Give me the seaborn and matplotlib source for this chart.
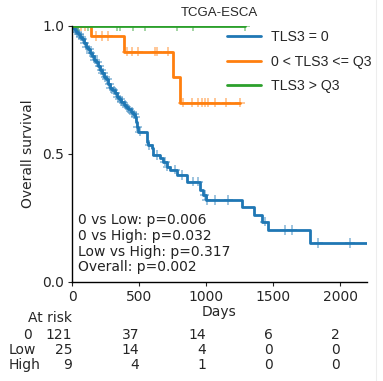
import numpy as np
import pandas as pd
import matplotlib
matplotlib.use("Agg")
import matplotlib.pyplot as plt
import matplotlib.transforms as mtransforms
from matplotlib.lines import Line2D
import seaborn as sns

# Kaplan-Meier step data per TLS3 group: event days, survival after each event,
# censoring days and the last follow-up day.
groups = ["TLS3 = 0", "0 < TLS3 <= Q3", "TLS3 > Q3"]
row_labels = ["0", "Low", "High"]

zero_event_days = [8, 20, 30, 45, 60, 75, 90, 105, 120, 135, 150, 165, 180, 195,
                   210, 225, 240, 255, 270, 285, 300, 318, 335, 350, 365, 385,
                   400, 420, 440, 458, 470, 478, 485, 492, 557, 565, 595, 607,
                   657, 681, 707, 731, 781, 856, 955, 980, 998, 1266, 1361,
                   1416, 1460, 1776]
zero_surv = [0.992, 0.983, 0.975, 0.967, 0.958, 0.950, 0.934, 0.918, 0.909,
             0.893, 0.884, 0.868, 0.859, 0.843, 0.826, 0.817, 0.800, 0.791,
             0.774, 0.757, 0.748, 0.739, 0.722, 0.713, 0.704, 0.692, 0.683,
             0.674, 0.664, 0.655, 0.646, 0.626, 0.606, 0.587, 0.548, 0.535,
             0.522, 0.496, 0.483, 0.470, 0.450, 0.438, 0.418, 0.392, 0.359,
             0.340, 0.320, 0.292, 0.262, 0.236, 0.203, 0.152]
zero_censor_days = [15, 28, 40, 52, 66, 80, 95, 112, 128, 140, 158, 172, 188,
                    205, 218, 232, 248, 262, 278, 292, 310, 325, 342, 358, 372,
                    392, 408, 428, 448, 462, 475, 488, 507, 577, 632, 694, 711,
                    769, 820, 900, 943, 990, 1005, 1067, 1167, 1440, 1590, 1640,
                    1838, 2075]
zero_last_day = 2250

low_event_days = [142, 388, 754, 806]
low_surv = [0.96, 0.90, 0.80, 0.70]
low_censor_days = [30, 67, 97, 180, 224, 269, 410, 450, 493, 619, 634, 716,
                   828, 896, 940, 970, 993, 1015, 1067, 1150, 1254]
low_last_day = 1254

high_event_days = []
high_surv = []
high_censor_days = [45, 120, 336, 358, 455, 545, 784, 900, 1290]
high_last_day = 1290

# Number at risk table
risk_days = [0, 500, 1000, 1500, 2000]
risk_zero = [121, 37, 14, 6, 2]
risk_low = [25, 14, 4, 0, 0]
risk_high = [9, 4, 1, 0, 0]

pvalue_lines = ["0 vs Low: p=0.006", "0 vs High: p=0.032",
                "Low vs High: p=0.317", "Overall: p=0.002"]

palette = ["#1f77b4", "#ff7f0e", "#2ca02c"]

sns.set_style("ticks")
plt.rcParams["font.family"] = ["DejaVu Sans"]
plt.rcParams["font.size"] = 10

series = [
    (zero_event_days, zero_surv, zero_censor_days, zero_last_day),
    (low_event_days, low_surv, low_censor_days, low_last_day),
    (high_event_days, high_surv, high_censor_days, high_last_day),
]

line_rows = []
censor_rows = []
for name, (ev, sv, cd, last) in zip(groups, series):
    xs = [0] + list(ev) + [last]
    ys = [1.0] + list(sv) + [sv[-1] if sv else 1.0]
    for x, y in zip(xs, ys):
        line_rows.append({"day": x, "surv": y, "group": name})
    ev_arr = np.asarray([0] + list(ev), dtype=float)
    sv_arr = np.asarray([1.0] + list(sv), dtype=float)
    for c in cd:
        idx = np.searchsorted(ev_arr, c, side="right") - 1
        censor_rows.append({"day": c, "surv": sv_arr[idx], "group": name})

lines_df = pd.DataFrame(line_rows)
censor_df = pd.DataFrame(censor_rows)

fig = plt.figure(figsize=(3.83, 3.81), dpi=100)
ax = fig.add_axes([0.188, 0.26, 0.770, 0.672])

sns.lineplot(data=lines_df, x="day", y="surv", hue="group", hue_order=groups,
             palette=palette, drawstyle="steps-post", estimator=None,
             linewidth=2, ax=ax)
sns.scatterplot(data=censor_df, x="day", y="surv", hue="group",
                hue_order=groups, palette=palette, marker="+", s=45,
                linewidth=1.1, alpha=0.55, legend=False, ax=ax)

ax.set_xlim(0, 2200)
ax.set_ylim(0, 1.0)
ax.set_xticks(risk_days)
ax.set_yticks([0.0, 0.5, 1.0])
ax.tick_params(length=3, pad=2.5)
ax.set_xlabel("Days", labelpad=1)
ax.set_ylabel("Overall survival", labelpad=5)
ax.set_title("TCGA-ESCA", fontsize=9.5, family=["Liberation Sans"], pad=7)
sns.despine(ax=ax)
for sp in ax.spines.values():
    sp.set_color("black")
    sp.set_linewidth(1.0)

leg = ax.legend(loc="upper left", bbox_to_anchor=(0.483, 1.034),
                frameon=False, handlelength=2.4, handletextpad=0.7,
                labelspacing=0.75,
                prop={"family": ["Liberation Sans"], "size": 10.2})

ax.text(0.02, 0.03, "\n".join(pvalue_lines), transform=ax.transAxes,
        ha="left", va="bottom", fontsize=10, color="#222222", linespacing=1.15)

# Number at risk table under the x axis
H = 381.0
trans = mtransforms.blended_transform_factory(ax.transData, fig.transFigure)
fig.text(72 / 383, 1 - 318 / H, "At risk", ha="right", va="center", fontsize=10)
row_y = [335, 350, 365]
label_right = [32, 36, 40]
for lbl, counts, yy, xr in zip(row_labels, [risk_zero, risk_low, risk_high],
                               row_y, label_right):
    fig.text(xr / 383, 1 - yy / H, lbl, ha="right", va="center", fontsize=10)
    for d, c in zip(risk_days, counts):
        ax.text(d, 1 - yy / H, str(c), transform=trans, ha="right",
                va="center", fontsize=10, clip_on=False)

# thin light border on the right edge of the canvas
fig.add_artist(Line2D([376 / 383, 376 / 383], [0, 1], color="#ededed",
                      linewidth=0.8, transform=fig.transFigure))

fig.savefig("out.png", dpi=100)
